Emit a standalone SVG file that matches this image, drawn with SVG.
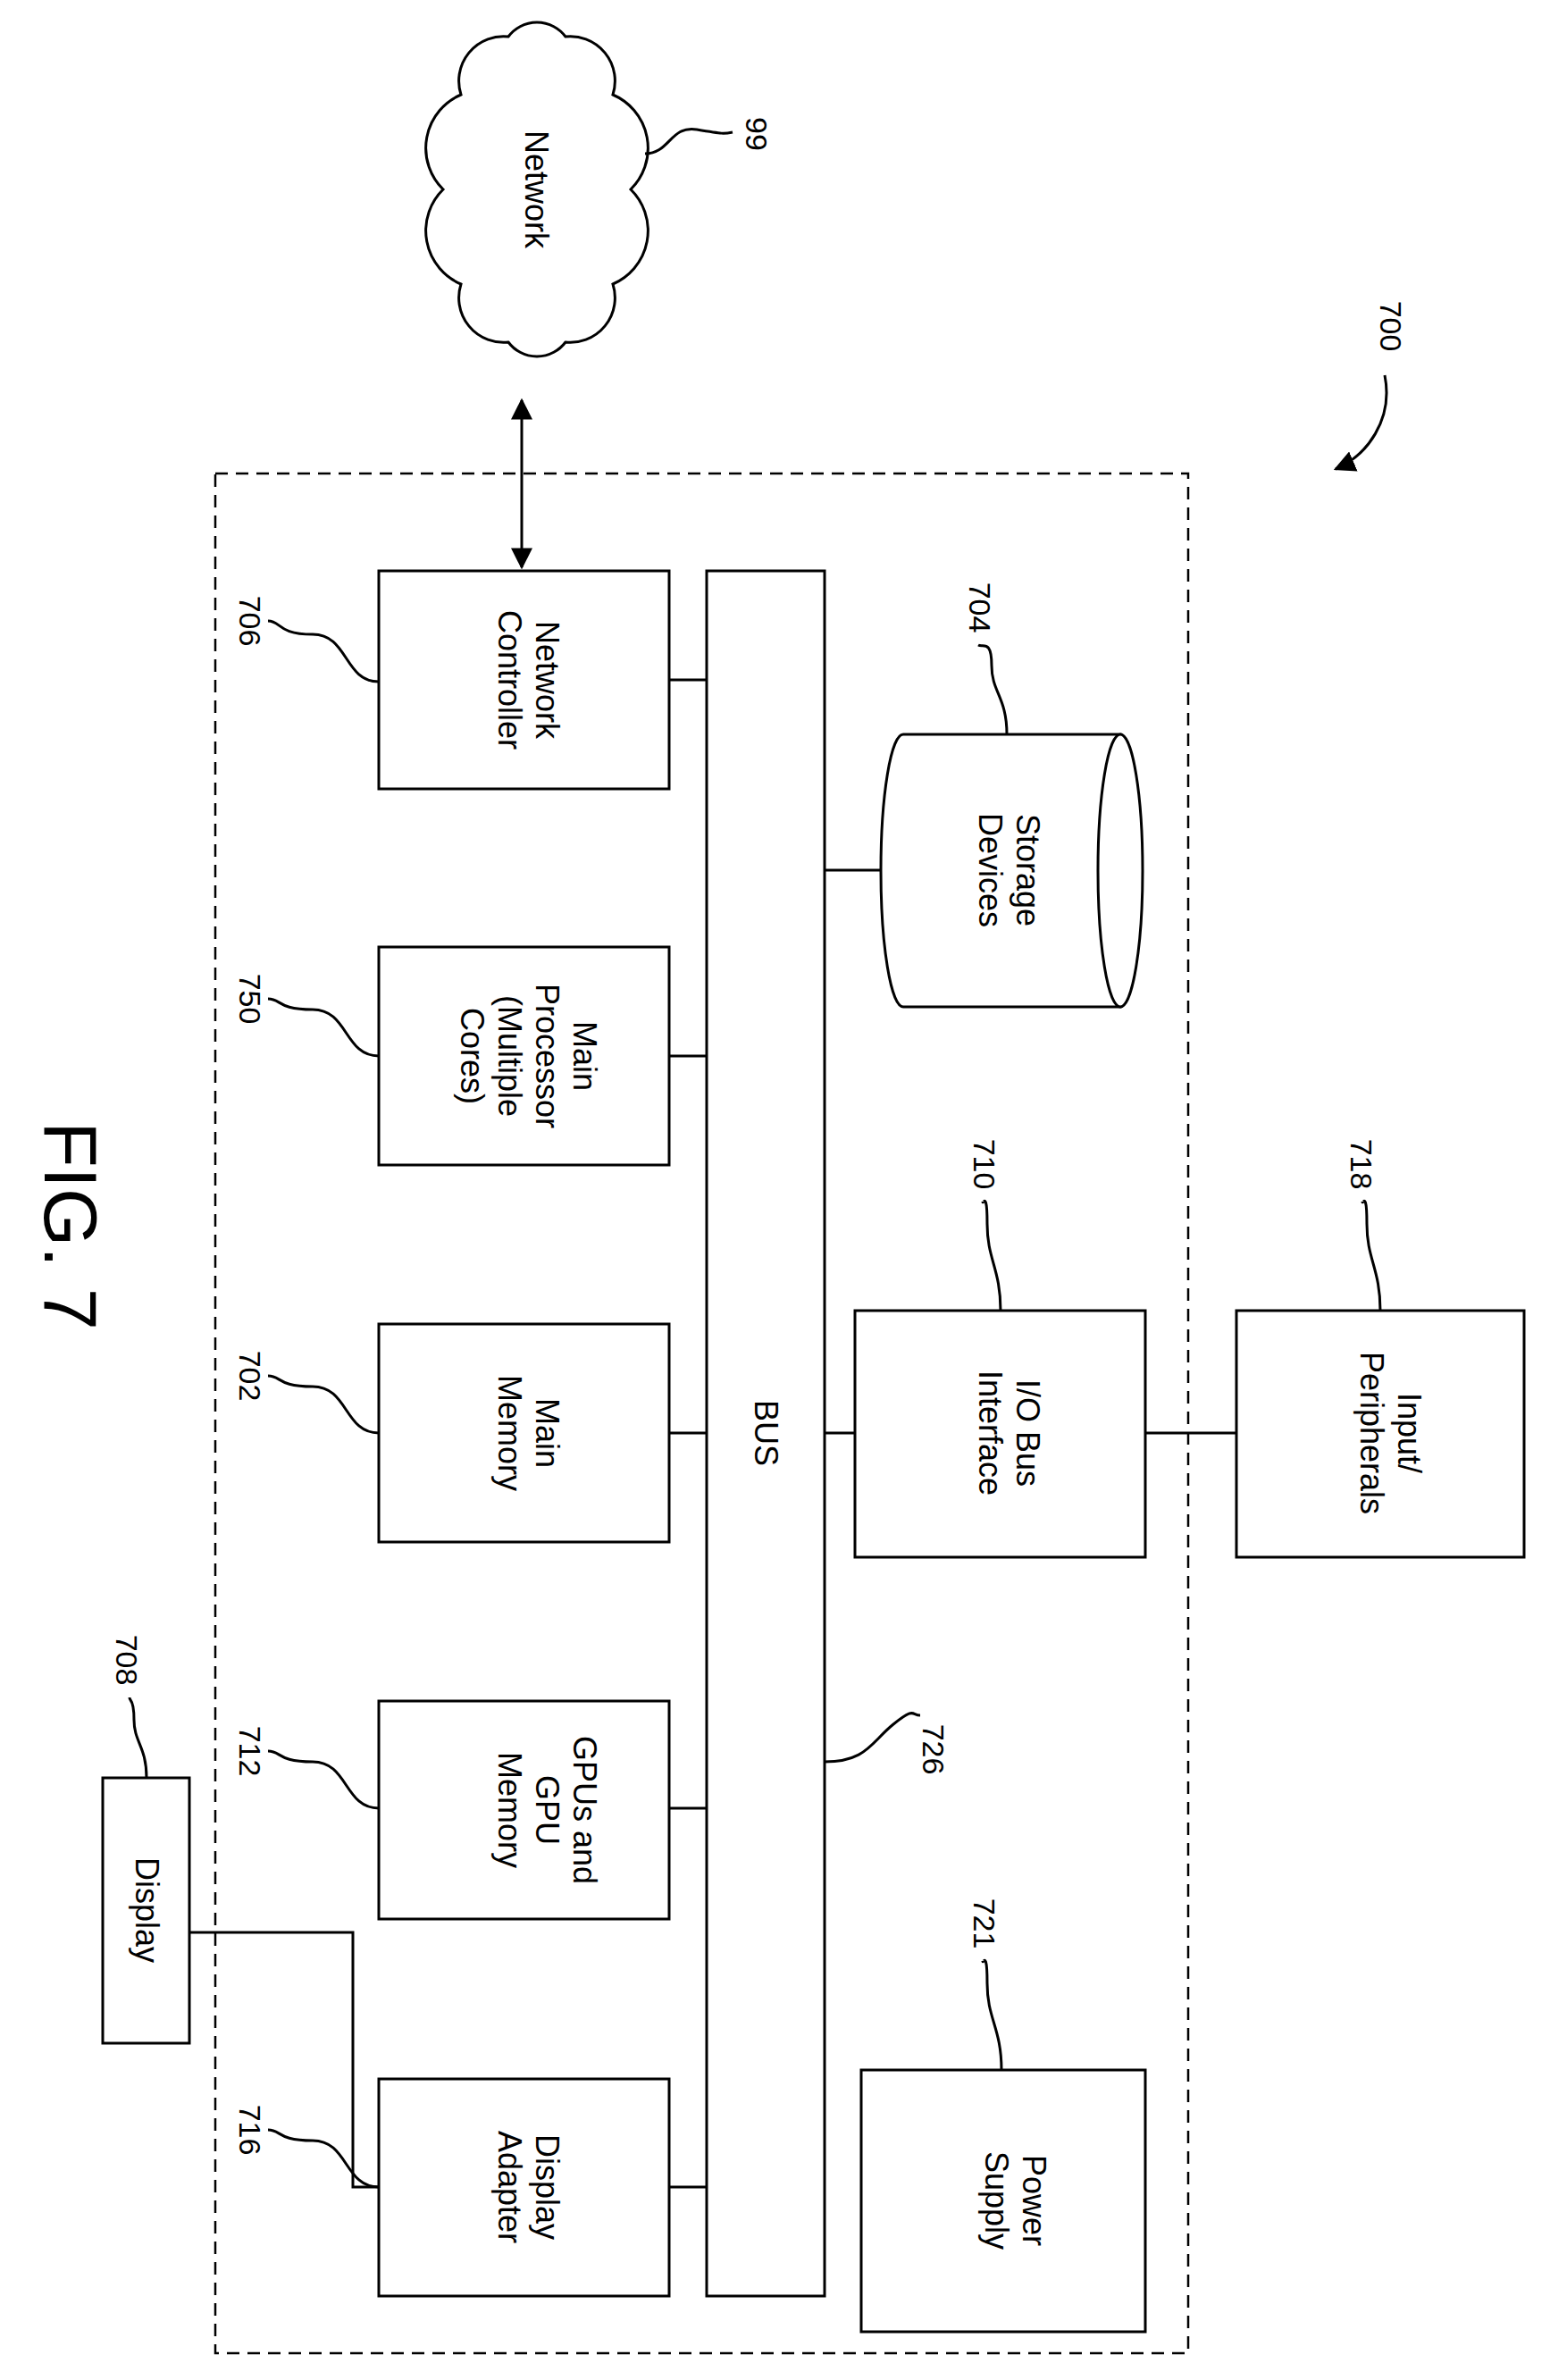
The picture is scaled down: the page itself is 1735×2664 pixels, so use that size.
<svg xmlns="http://www.w3.org/2000/svg" width="1735" height="2664" viewBox="0 0 1735 2664">
<style>
.b{fill:#fff;stroke:#000;stroke-width:3}
.l{fill:none;stroke:#000;stroke-width:3}
.t{font-family:"Liberation Sans",Arial,sans-serif;font-size:36px;text-anchor:middle;fill:#000}
.n{font-family:"Liberation Sans",Arial,sans-serif;font-size:34px;text-anchor:middle;fill:#000}
</style>
<defs>
<marker id="a" viewBox="0 0 10 10" refX="9" refY="5" markerWidth="8" markerHeight="8" orient="auto-start-reverse"><path d="M0,0 L10,5 L0,10 z" fill="#000"/></marker>
</defs>
<rect x="0" y="0" width="1735" height="2664" fill="#fff"/>
<rect x="241" y="530" width="1089" height="2104" fill="none" stroke="#000" stroke-width="2.5" stroke-dasharray="14,9"/>
<g id="connectors">
<line class="l" x1="584" y1="448" x2="584" y2="635" marker-start="url(#a)" marker-end="url(#a)"/>
<line class="l" x1="749" y1="761" x2="791" y2="761"/>
<line class="l" x1="749" y1="1182" x2="791" y2="1182"/>
<line class="l" x1="749" y1="1604" x2="791" y2="1604"/>
<line class="l" x1="749" y1="2024" x2="791" y2="2024"/>
<line class="l" x1="749" y1="2448" x2="791" y2="2448"/>
<line class="l" x1="923" y1="974" x2="986" y2="974"/>
<line class="l" x1="923" y1="1604" x2="957" y2="1604"/>
<line class="l" x1="1282" y1="1604" x2="1384" y2="1604"/>
<polyline class="l" points="212,2163 395,2163 395,2448 424,2448"/>
</g>
<g id="n99">
<path class="b" d="M706,212 A65,65 0 0 1 686,318 A50,50 0 0 1 633,383 A40,40 0 0 1 569,383 A50,50 0 0 1 516,318 A65,65 0 0 1 496,212 A65,65 0 0 1 516,106 A50,50 0 0 1 569,41 A40,40 0 0 1 633,41 A50,50 0 0 1 686,106 A65,65 0 0 1 706,212 Z"/>
<text class="t" transform="translate(588,212) rotate(90)">Network</text>
<path class="l" d="M722,172 C750,172 750,140 780,145 S810,150 820,148"/>
<text class="n" transform="translate(835,150) rotate(90)">99</text>
</g>
<g id="n700">
<text class="n" transform="translate(1545,365) rotate(90)">700</text>
<path class="l" d="M1550,420 C1560,470 1530,510 1495,525" marker-end="url(#a)"/>
</g>
<g id="n706">
<rect class="b" x="424" y="639" width="325" height="244"/>
<text class="t" transform="translate(600,761) rotate(90)"><tspan x="0" y="0">Network</tspan><tspan x="0" dy="42">Controller</tspan></text>
<path class="l" d="M424,763 C385,763 390,710 350,710 S315,695 300,695"/>
<text class="n" transform="translate(268,695) rotate(90)">706</text>
</g>
<g id="n750">
<rect class="b" x="424" y="1060" width="325" height="244"/>
<text class="t" transform="translate(642,1182) rotate(90)"><tspan x="0" y="0">Main</tspan><tspan x="0" dy="42">Processor</tspan><tspan x="0" dy="42">(Multiple</tspan><tspan x="0" dy="42">Cores)</tspan></text>
<path class="l" d="M424,1182 C385,1182 390,1130 350,1130 S315,1118 300,1118"/>
<text class="n" transform="translate(268,1118) rotate(90)">750</text>
</g>
<g id="n702">
<rect class="b" x="424" y="1482" width="325" height="244"/>
<text class="t" transform="translate(600,1604) rotate(90)"><tspan x="0" y="0">Main</tspan><tspan x="0" dy="42">Memory</tspan></text>
<path class="l" d="M424,1604 C385,1604 390,1552 350,1552 S315,1540 300,1540"/>
<text class="n" transform="translate(268,1540) rotate(90)">702</text>
</g>
<g id="n712">
<rect class="b" x="424" y="1904" width="325" height="244"/>
<text class="t" transform="translate(642,2026) rotate(90)"><tspan x="0" y="0">GPUs and</tspan><tspan x="0" dy="42">GPU</tspan><tspan x="0" dy="42">Memory</tspan></text>
<path class="l" d="M424,2024 C385,2024 390,1972 350,1972 S315,1960 300,1960"/>
<text class="n" transform="translate(268,1960) rotate(90)">712</text>
</g>
<g id="n716">
<rect class="b" x="424" y="2327" width="325" height="243"/>
<text class="t" transform="translate(600,2448) rotate(90)"><tspan x="0" y="0">Display</tspan><tspan x="0" dy="42">Adapter</tspan></text>
<path class="l" d="M424,2448 C385,2448 390,2396 350,2396 S315,2384 300,2384"/>
<text class="n" transform="translate(268,2384) rotate(90)">716</text>
</g>
<g id="n726">
<rect class="b" x="791" y="639" width="132" height="1931"/>
<text class="t" transform="translate(845,1604) rotate(90)">BUS</text>
<path class="l" d="M923,1972 C970,1972 975,1950 1000,1930 S1020,1920 1030,1920"/>
<text class="n" transform="translate(1033,1958) rotate(90)">726</text>
</g>
<g id="n704">
<path class="b" d="M1254,822 L1011,822 A25,152.5 0 0 0 1011,1127 L1254,1127 Z"/>
<ellipse class="b" cx="1254" cy="974.5" rx="25" ry="152.5"/>
<text class="t" transform="translate(1138,974) rotate(90)"><tspan x="0" y="0">Storage</tspan><tspan x="0" dy="42">Devices</tspan></text>
<path class="l" d="M1127,822 C1127,780 1110,775 1110,745 S1100,725 1095,722"/>
<text class="n" transform="translate(1085,680) rotate(90)">704</text>
</g>
<g id="n710">
<rect class="b" x="957" y="1467" width="325" height="276"/>
<text class="t" transform="translate(1138,1604) rotate(90)"><tspan x="0" y="0">I/O Bus</tspan><tspan x="0" dy="42">Interface</tspan></text>
<path class="l" d="M1120,1467 C1120,1420 1105,1410 1105,1370 S1100,1350 1100,1345"/>
<text class="n" transform="translate(1090,1303) rotate(90)">710</text>
</g>
<g id="n718">
<rect class="b" x="1384" y="1467" width="322" height="276"/>
<text class="t" transform="translate(1565,1604) rotate(90)"><tspan x="0" y="0">Input/</tspan><tspan x="0" dy="42">Peripherals</tspan></text>
<path class="l" d="M1545,1467 C1545,1420 1530,1410 1530,1370 S1525,1350 1525,1345"/>
<text class="n" transform="translate(1512,1303) rotate(90)">718</text>
</g>
<g id="n721">
<rect class="b" x="964" y="2317" width="318" height="293"/>
<text class="t" transform="translate(1145,2463) rotate(90)"><tspan x="0" y="0">Power</tspan><tspan x="0" dy="42">Supply</tspan></text>
<path class="l" d="M1121,2317 C1121,2270 1105,2260 1105,2220 S1100,2200 1100,2195"/>
<text class="n" transform="translate(1090,2153) rotate(90)">721</text>
</g>
<g id="n708">
<rect class="b" x="115" y="1990" width="97" height="297"/>
<text class="t" transform="translate(152,2138) rotate(90)">Display</text>
<path class="l" d="M164,1990 C164,1955 150,1950 150,1925 S145,1905 145,1900"/>
<text class="n" transform="translate(130,1858) rotate(90)">708</text>
</g>
<text transform="translate(50,1372) rotate(90)" style="font-family:'Liberation Sans',Arial,sans-serif;font-size:84px;text-anchor:middle">FIG. 7</text>
</svg>
